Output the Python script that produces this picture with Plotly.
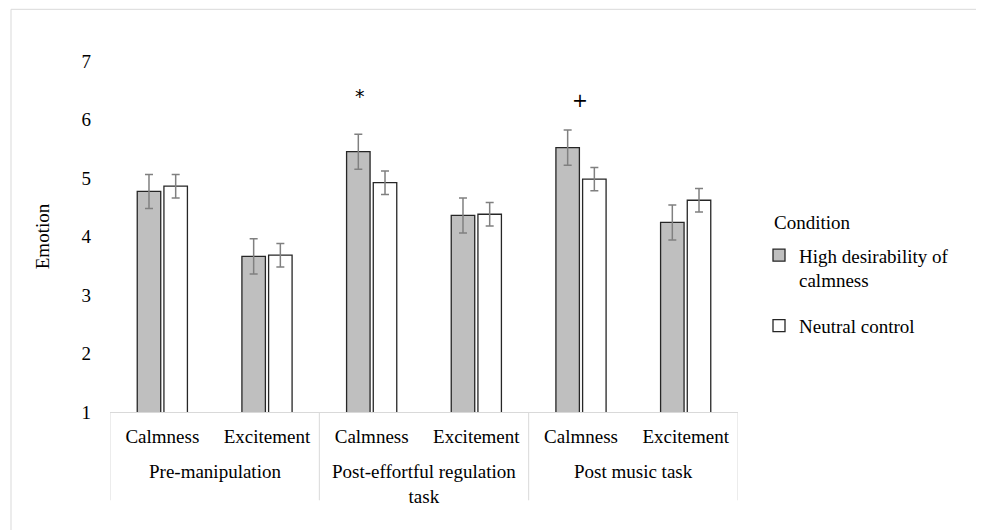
import plotly.graph_objects as go

# ---- data ----
phases = ["Pre-manipulation", "Post-effortful regulation<br>task", "Post music task"]
emotions = ["Calmness", "Excitement"]
high_means = [4.77, 3.66, 5.45, 4.36, 5.52, 4.24]
high_err = [0.29, 0.30, 0.30, 0.30, 0.30, 0.30]
neutral_means = [4.86, 3.68, 4.92, 4.38, 4.98, 4.62]
neutral_err = [0.20, 0.20, 0.20, 0.20, 0.20, 0.20]
series_names = ["High desirability of<br>calmness", "Neutral control"]
sig_labels = ["*", "+"]
sig_index = [2, 4]
sig_y = [6.4, 6.33]
y_ticks = [1, 2, 3, 4, 5, 6, 7]

x_ids = [f"{p}|{e}" for p in phases for e in emotions]
x_inner = [e for _ in phases for e in emotions]

FONT = "Liberation Serif, Times New Roman, serif"
W, H = 984, 530
OFF = 8  # page body margin offset
# target plot area in reference pixels: x 110..738, y 60.7..411.7
L = 110 - OFF
T = 60.7 - OFF
R = W - (738 - OFF)
B = H - (411.7 - OFF)
PW, PH = W - L - R, H - T - B


def px_x(px):
    return (px - OFF - L) / PW


def px_y(py):
    return 1 - (py - OFF - T) / PH


fig = go.Figure()
fig.add_trace(go.Bar(
    x=x_ids, y=high_means, name=series_names[0],
    marker=dict(color="#BFBFBF", line=dict(color="#262626", width=1.3)),
    error_y=dict(type="data", array=high_err, color="#808080", thickness=1.5, width=4),
    legendgroup="a",
))
fig.add_trace(go.Bar(
    x=x_ids, y=neutral_means, name=series_names[1],
    marker=dict(color="#FFFFFF", line=dict(color="#262626", width=1.3)),
    error_y=dict(type="data", array=neutral_err, color="#808080", thickness=1.5, width=4),
    legendgroup="b",
))

sig_shift = [-12, -1]
for lab, idx, yy, sh in zip(sig_labels, sig_index, sig_y, sig_shift):
    fig.add_annotation(x=idx, y=yy, xref="x", yref="y", text=lab, showarrow=False,
                       xshift=sh, font=dict(family="DejaVu Sans, sans-serif", size=19, color="#000"))

# group labels and dividers for the two-level category axis
for i, p in enumerate(phases):
    fig.add_annotation(x=2 * i + 0.5, y=px_y(459), xref="x", yref="paper", text=p,
                       showarrow=False, xanchor="center", yanchor="top",
                       font=dict(family=FONT, size=19, color="#000"))
for i in range(len(phases) + 1):
    fig.add_shape(type="line", xref="x", yref="paper", x0=2 * i - 0.5, x1=2 * i - 0.5,
                  y0=0, y1=px_y(500), line=dict(color="#D9D9D9", width=1))

fig.add_annotation(x=px_x(772), y=px_y(222), xref="paper", yref="paper", text="Condition",
                   showarrow=False, xanchor="left", yanchor="middle",
                   font=dict(family=FONT, size=19, color="#000"))

fig.add_shape(type="rect", xref="paper", yref="paper",
              x0=px_x(11), x1=px_x(1000), y0=px_y(545), y1=px_y(9),
              line=dict(color="#D9D9D9", width=1), fillcolor="rgba(0,0,0,0)", layer="below")

fig.update_layout(
    width=W, height=H,
    margin=dict(l=L, r=R, t=T, b=B, autoexpand=False),
    plot_bgcolor="white", paper_bgcolor="white",
    barmode="group", bargap=0.49, bargroupgap=0.12,
    font=dict(family=FONT, size=19, color="#000"),
    showlegend=True,
    legend=dict(x=px_x(759), y=px_y(236), xanchor="left", yanchor="top",
                tracegroupgap=18, valign="top", traceorder="grouped",
                font=dict(family=FONT, size=19, color="#000")),
    xaxis=dict(type="category", tickvals=x_ids, ticktext=x_inner, range=[-0.5, 5.5],
               showline=True, linecolor="#D9D9D9", linewidth=1,
               ticks="", ticklabelstandoff=7,
               tickfont=dict(family=FONT, size=19, color="#000"),
               showgrid=False),
    yaxis=dict(range=[1, 7], tickvals=y_ticks, showgrid=False, zeroline=False, showline=False,
               ticks="", ticklabelstandoff=18,
               tickfont=dict(family=FONT, size=19, color="#000"),
               title=dict(text="Emotion", standoff=26, font=dict(family=FONT, size=19, color="#000"))),
)

fig.write_html("out.html")
